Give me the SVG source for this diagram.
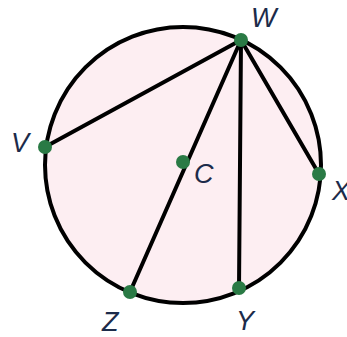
<svg xmlns="http://www.w3.org/2000/svg" width="347" height="337" viewBox="0 0 347 337">
<style>
.ln{stroke:#000;stroke-width:4;fill:none;stroke-linecap:round}
.pt{fill:#2a7a45}
.lb{font-family:"Liberation Sans",Arial,sans-serif;font-style:italic;font-size:27px;fill:#1c2b4a}
</style>
<rect width="347" height="337" fill="#fff"/>
<g id="circle"><circle cx="183" cy="165" r="138" fill="#fdeef2" stroke="#000" stroke-width="4"/></g>
<g id="connectors">
<line class="ln" x1="241" y1="40" x2="45" y2="147"/>
<line class="ln" x1="241" y1="40" x2="130" y2="292"/>
<line class="ln" x1="241" y1="40" x2="239" y2="288"/>
<line class="ln" x1="241" y1="40" x2="319" y2="174"/>
</g>
<g id="W"><circle class="pt" cx="241" cy="40" r="7"/><text class="lb" x="251" y="27">W</text></g>
<g id="V"><circle class="pt" cx="45" cy="147" r="7"/><text class="lb" x="11" y="152">V</text></g>
<g id="C"><circle class="pt" cx="183" cy="162" r="7"/><text class="lb" x="194" y="183">C</text></g>
<g id="X"><circle class="pt" cx="319" cy="174" r="7"/><text class="lb" x="332" y="200">X</text></g>
<g id="Y"><circle class="pt" cx="239" cy="288" r="7"/><text class="lb" x="236" y="330">Y</text></g>
<g id="Z"><circle class="pt" cx="130" cy="292" r="7"/><text class="lb" x="102" y="331">Z</text></g>
</svg>
